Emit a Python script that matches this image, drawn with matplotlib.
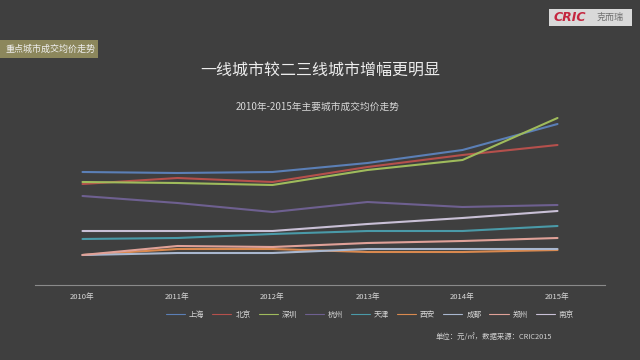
import matplotlib
matplotlib.use("Agg")
import matplotlib.pyplot as plt
from matplotlib.patches import Rectangle

plt.rcParams['font.family'] = ['Noto Sans CJK SC', 'DejaVu Sans']

years = ["2010年", "2011年", "2012年", "2013年", "2014年", "2015年"]
cities = ["上海", "北京", "深圳", "杭州", "天津", "西安", "成都", "郑州", "南京"]
# average transaction price, 元/㎡
shanghai = [22600, 22400, 22600, 24400, 27000, 32200]
beijing = [20200, 21400, 20600, 23600, 26000, 28000]
shenzhen = [20600, 20400, 20000, 23000, 25000, 33400]
hangzhou = [17800, 16400, 14600, 16600, 15600, 16000]
tianjin = [9200, 9400, 10200, 10800, 10800, 11800]
xian = [6000, 7200, 7200, 6600, 6600, 7000]
chengdu = [6000, 6400, 6400, 7200, 7200, 7200]
zhengzhou = [6000, 7800, 7600, 8400, 8800, 9400]
nanjing = [10800, 10800, 10800, 12200, 13400, 14800]

series = [shanghai, beijing, shenzhen, hangzhou, tianjin, xian, chengdu, zhengzhou, nanjing]
colors = ["#5b7fb6", "#b5504c", "#9fbb5c", "#6e6090", "#4a9aa8", "#d9894f",
          "#a9b7cf", "#e0a198", "#c9c0d6"]

bg = "#3f3f3f"
fig = plt.figure(figsize=(6.4, 3.6), dpi=100, facecolor=bg)
ax = fig.add_axes([35/640, 1-285/360, 570/640, (285-110)/360], facecolor=bg)

x = list(range(len(years)))
handles = []
for name, vals, c in zip(cities, series, colors):
    h, = ax.plot(x, vals, color=c, lw=1.5, label=name, solid_capstyle='round')
    handles.append(h)

ax.set_xlim(-0.5, 5.5)
ax.set_ylim(0, 35000)
ax.set_xticks(x)
ax.set_xticklabels(years, fontsize=5.5, color="#d8d8d8")
ax.set_yticks([])
ax.tick_params(axis='x', length=0, pad=6)
for s in ['top', 'right', 'left']:
    ax.spines[s].set_visible(False)
ax.spines['bottom'].set_color("#8a8a8a")
ax.spines['bottom'].set_linewidth(0.8)

leg = fig.legend(handles=handles, labels=cities, loc='center', ncol=9,
                 bbox_to_anchor=(370/640, 1-315/360), frameon=False,
                 fontsize=5.5, handlelength=2.5, columnspacing=1.05,
                 handletextpad=0.5, labelcolor="#d8d8d8")
for line in leg.get_lines():
    line.set_linewidth(0.8)

fig.text(0.5, 1-70/360, "一线城市较二三线城市增幅更明显", ha='center', va='center',
         fontsize=11.5, color="#ececec")
fig.text(318/640, 1-107/360, "2010年-2015年主要城市成交均价走势", ha='center', va='center',
         fontsize=7, color="#d8d8d8")
fig.text(552/640, 1-337/360, "单位：元/㎡，数据来源：CRIC2015", ha='right', va='center',
         fontsize=5.3, color="#d0d0d0")

# top-left label box
fig.patches.append(Rectangle((0, 1-58/360), 98/640, 18/360, transform=fig.transFigure,
                             facecolor="#8c875c", edgecolor='none'))
fig.text(5/640, 1-49/360, "重点城市成交均价走势", ha='left', va='center',
         fontsize=6.5, color="#f0f0f0")

# top-right logo box
fig.patches.append(Rectangle((549/640, 1-26/360), 83/640, 17/360, transform=fig.transFigure,
                             facecolor="#d9d9d9", edgecolor='none'))
fig.text(554/640, 1-17.5/360, "CRIC", ha='left', va='center', fontsize=9,
         color="#c4263f", fontweight='heavy', style='italic', family=['DejaVu Sans'])
fig.text(597/640, 1-17.5/360, "克而瑞", ha='left', va='center', fontsize=6.5,
         color="#707070")

fig.savefig("out.png", dpi=100, facecolor=bg)
